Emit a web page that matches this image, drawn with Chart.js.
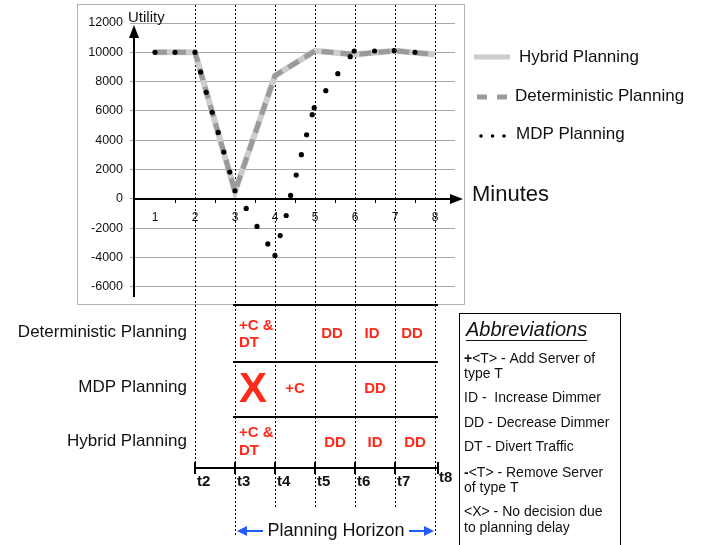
<!DOCTYPE html>
<html>
<head>
<meta charset="utf-8">
<script src="https://cdn.jsdelivr.net/npm/chart.js@4.4.0/dist/chart.umd.min.js"></script>
<style>
  html, body { margin: 0; padding: 0; background: #fff; }
</style>
</head>
<body>
<canvas id="chart" width="707" height="545"></canvas>
<script>
// utility per minute
const minutes = [1, 2, 3, 4, 5, 6, 7, 8];
const hybridUtility = [10000, 10000, 500, 8400, 10100, 9850, 10100, 9850];
const deterministicUtility = [10000, 10000, 500, 8400, 10100, 9850, 10100, 9850];
const mdpMinutes = [1, 1.5, 2, 2.14, 2.28, 2.43, 2.58, 2.72, 2.87, 3, 3.28, 3.55, 3.82, 4, 4.13, 4.28,
  4.39, 4.53, 4.66, 4.79, 4.93, 4.98, 5.27, 5.57, 5.88, 5.98, 6.49, 6.98, 7.5];
const mdpUtility = [10000, 10000, 10000, 8650, 7270, 5900, 4530, 3190, 1820, 550, -660, -1890, -3080, -3870,
  -2510, -1140, 230, 1620, 3010, 4370, 5740, 6220, 7380, 8540, 9700, 10090, 10090, 10110, 10000];
const utilityTicks = [12000, 10000, 8000, 6000, 4000, 2000, 0, -2000, -4000, -6000];

const timeMinutes = [2, 3, 4, 5, 6, 7, 8];
const timeLabels = ['t2', 't3', 't4', 't5', 't6', 't7', 't8'];
const rowLabels = ['Deterministic Planning', 'MDP Planning', 'Hybrid Planning'];
// decisions: [start minute of the cell, text lines]
const deterministicDecisions = [[3, ['+C &', 'DT']], [5, ['DD']], [6, ['ID']], [7, ['DD']]];
const mdpDecisions = [[3, ['X']], [4, ['+C']], [6, ['DD']]];
const hybridDecisions = [[3, ['+C &', 'DT']], [5, ['DD']], [6, ['ID']], [7, ['DD']]];
const legendLabels = ['Hybrid Planning', 'Deterministic Planning', 'MDP Planning'];
const abbreviations = [
  ['+', '<T> - Add Server of', 'type T'],
  ['', 'ID -  Increase Dimmer'],
  ['', 'DD - Decrease Dimmer'],
  ['', 'DT - Divert Traffic'],
  ['-', '<T> - Remove Server', 'of type T'],
  ['', '<X> - No decision due', 'to planning delay']
];

const FAM = '"Liberation Sans", Arial, Helvetica, sans-serif';
const RED = '#ff2a1a';
const BLUE = '#1f5bff';

function line(ctx, x1, y1, x2, y2) {
  ctx.beginPath(); ctx.moveTo(x1, y1); ctx.lineTo(x2, y2); ctx.stroke();
}
function arrowHead(ctx, tipX, tipY, dir, len, half) {
  ctx.beginPath();
  if (dir === 'up') {
    ctx.moveTo(tipX, tipY); ctx.lineTo(tipX - half, tipY + len); ctx.lineTo(tipX + half, tipY + len);
  } else if (dir === 'right') {
    ctx.moveTo(tipX, tipY); ctx.lineTo(tipX - len, tipY - half); ctx.lineTo(tipX - len, tipY + half);
  } else {
    ctx.moveTo(tipX, tipY); ctx.lineTo(tipX + len, tipY - half); ctx.lineTo(tipX + len, tipY + half);
  }
  ctx.closePath(); ctx.fill();
}

const figurePlugin = {
  id: 'figure',
  beforeDraw(chart) {
    const ctx = chart.ctx;
    ctx.save();
    ctx.fillStyle = '#fff';
    ctx.fillRect(0, 0, chart.width, chart.height);
    ctx.strokeStyle = '#b4b4b4';
    ctx.lineWidth = 1;
    ctx.strokeRect(77.5, 4.5, 387, 300);
    ctx.restore();
  },
  beforeDatasetsDraw(chart) {
    const ctx = chart.ctx, x = chart.scales.x;
    ctx.save();
    ctx.strokeStyle = '#000';
    ctx.lineWidth = 1;
    ctx.setLineDash([2, 2]);
    timeMinutes.forEach(m => {
      const px = Math.round(x.getPixelForValue(m)) + 0.5;
      const bottom = m === 2 ? 468 : (m === 3 || m === 8) ? 535 : 507;
      line(ctx, px, 5, px, bottom);
    });
    ctx.restore();
  },
  afterDatasetsDraw(chart) {
    const ctx = chart.ctx, x = chart.scales.x, y = chart.scales.y;
    const x0 = x.getPixelForValue(0.5) - 1;
    const y0 = Math.round(y.getPixelForValue(0));
    ctx.save();
    ctx.strokeStyle = '#000';
    ctx.fillStyle = '#000';
    ctx.lineWidth = 2;
    // y axis with arrow
    line(ctx, x0, 297, x0, 36);
    arrowHead(ctx, x0, 25, 'up', 13, 5);
    // x axis with arrow
    line(ctx, x0, y0, 452, y0);
    arrowHead(ctx, 463, y0, 'right', 13, 5);
    // minor ticks
    ctx.lineWidth = 1;
    for (let m = 1.5; m < 8.5; m += 1) {
      const px = Math.round(x.getPixelForValue(m)) + 0.5;
      line(ctx, px, y0, px, y0 + 4);
    }
    ctx.font = '12px ' + FAM;
    ctx.fillStyle = '#111';
    ctx.textAlign = 'center';
    ctx.textBaseline = 'middle';
    minutes.forEach(m => ctx.fillText(String(m), x.getPixelForValue(m), y0 + 19));
    // axis titles
    ctx.textAlign = 'left';
    ctx.font = '15px ' + FAM;
    ctx.fillText('Utility', 128, 18);
    ctx.font = '22px ' + FAM;
    ctx.fillText('Minutes', 472, 195);
    ctx.restore();
  },
  afterDraw(chart) {
    const ctx = chart.ctx, x = chart.scales.x;
    const px = m => x.getPixelForValue(m);
    ctx.save();

    // legend
    ctx.lineCap = 'butt';
    ctx.strokeStyle = '#cdcdcd';
    ctx.lineWidth = 5;
    line(ctx, 474, 57, 510, 57);
    ctx.strokeStyle = '#9a9a9a';
    line(ctx, 477, 97, 487, 97);
    line(ctx, 497, 97, 507, 97);
    ctx.fillStyle = '#000';
    [481, 492.5, 504].forEach(cx => { ctx.beginPath(); ctx.arc(cx, 136, 1.8, 0, Math.PI * 2); ctx.fill(); });
    ctx.fillStyle = '#111';
    ctx.font = '17px ' + FAM;
    ctx.textAlign = 'left';
    ctx.textBaseline = 'middle';
    ctx.fillText(legendLabels[0], 519, 57);
    ctx.fillText(legendLabels[1], 515, 96);
    ctx.fillText(legendLabels[2], 516, 134);

    // rows
    const rowY = [333, 388, 442];
    ctx.textAlign = 'right';
    rowLabels.forEach((t, i) => ctx.fillText(t, 187, rowY[i] - 1));

    ctx.strokeStyle = '#000';
    ctx.lineWidth = 2;
    [305, 362, 417].forEach(yy => line(ctx, px(3) - 2, yy, px(8) + 3, yy));
    // timeline
    line(ctx, px(2), 468, px(8) + 3, 468);
    timeMinutes.forEach((m, i) => {
      const tx = m === 8 ? px(m) + 3 : px(m);
      line(ctx, tx, 462, tx, 474);
    });
    ctx.font = 'bold 15px ' + FAM;
    ctx.fillStyle = '#111';
    ctx.textAlign = 'left';
    timeMinutes.forEach((m, i) => {
      const tx = m === 8 ? px(m) + 4 : px(m) + 2;
      ctx.fillText(timeLabels[i], tx, m === 8 ? 478 : 482);
    });

    // decisions
    const rows = [deterministicDecisions, mdpDecisions, hybridDecisions];
    ctx.fillStyle = RED;
    rows.forEach((row, r) => {
      row.forEach(([m, lines]) => {
        if (lines[0] === 'X') {
          ctx.font = 'bold 42px ' + FAM;
          ctx.textAlign = 'center';
          ctx.fillText('X', (px(m) + px(m + 1)) / 2 - 2, rowY[r] + 2);
        } else if (lines.length > 1) {
          ctx.font = 'bold 15px ' + FAM;
          ctx.textAlign = 'left';
          ctx.fillText(lines[0], px(m) + 4, rowY[r] - 7 - (r === 2 ? 2 : 0));
          ctx.fillText(lines[1], px(m) + 4, rowY[r] + 10 - (r === 2 ? 1 : 0));
        } else {
          ctx.font = 'bold 15px ' + FAM;
          ctx.textAlign = 'center';
          const off = r === 0 ? -3 : 0;
          ctx.fillText(lines[0], (px(m) + px(m + 1)) / 2 + off, rowY[r] + 1);
        }
      });
    });

    // planning horizon
    ctx.fillStyle = '#111';
    ctx.font = '18px ' + FAM;
    ctx.textAlign = 'center';
    ctx.fillText('Planning Horizon', 336, 531);
    ctx.strokeStyle = BLUE;
    ctx.fillStyle = BLUE;
    ctx.lineWidth = 2;
    line(ctx, px(3) + 10, 531, 263, 531);
    arrowHead(ctx, px(3) + 2, 531, 'left', 10, 5);
    line(ctx, 409, 531, px(8) - 8, 531);
    arrowHead(ctx, px(8) - 1, 531, 'right', 10, 5);

    // abbreviations box
    ctx.strokeStyle = '#000';
    ctx.lineWidth = 1;
    ctx.strokeRect(459.5, 313.5, 161, 240);
    ctx.fillStyle = '#111';
    ctx.textAlign = 'left';
    ctx.font = 'italic 20px ' + FAM;
    ctx.fillText('Abbreviations', 466, 330);
    const tw = ctx.measureText('Abbreviations').width;
    ctx.strokeStyle = '#111';
    line(ctx, 466, 340.5, 466 + tw, 340.5);
    const entryY = [[359, 374], [398], [423], [447], [473, 488], [512, 528]];
    abbreviations.forEach(([pre, first, second], i) => {
      let tx = 464;
      if (pre) {
        ctx.font = 'bold 14px ' + FAM;
        ctx.fillText(pre, tx, entryY[i][0]);
        tx += ctx.measureText(pre).width;
      }
      ctx.font = '14px ' + FAM;
      ctx.fillText(first, tx, entryY[i][0]);
      if (second) ctx.fillText(second, 464, entryY[i][1]);
    });
    ctx.restore();
  }
};

new Chart(document.getElementById('chart'), {
  type: 'line',
  data: {
    datasets: [
      {
        label: 'MDP Planning',
        data: mdpMinutes.map((m, i) => ({ x: m, y: mdpUtility[i] })),
        showLine: false,
        pointRadius: 2.6,
        pointBackgroundColor: '#000',
        pointBorderWidth: 0,
        order: 0
      },
      {
        label: 'Deterministic Planning',
        data: minutes.map((m, i) => ({ x: m, y: deterministicUtility[i] })),
        borderColor: '#9a9a9a',
        borderWidth: 5,
        borderDash: [12, 7],
        pointRadius: 0,
        tension: 0,
        order: 1
      },
      {
        label: 'Hybrid Planning',
        data: minutes.map((m, i) => ({ x: m, y: hybridUtility[i] })),
        borderColor: '#cdcdcd',
        borderWidth: 6,
        pointRadius: 0,
        tension: 0,
        order: 2
      }
    ]
  },
  options: {
    responsive: false,
    devicePixelRatio: 1,
    animation: false,
    layout: { padding: { left: 78, right: 252, top: 23, bottom: 251 } },
    plugins: { legend: { display: false }, tooltip: { enabled: false } },
    scales: {
      x: { type: 'linear', min: 0.5, max: 8.5, display: false },
      y: {
        min: -6500,
        max: 12000,
        afterBuildTicks: s => { s.ticks = utilityTicks.map(v => ({ value: v })); },
        afterFit: s => { s.width = 57; },
        ticks: {
          color: '#111',
          font: { family: FAM, size: 12.5 },
          padding: 7,
          callback: v => String(v)
        },
        grid: { color: '#a8a8a8', tickLength: 5, lineWidth: 1 },
        border: { display: false }
      }
    }
  },
  plugins: [figurePlugin]
});
</script>
</body>
</html>
